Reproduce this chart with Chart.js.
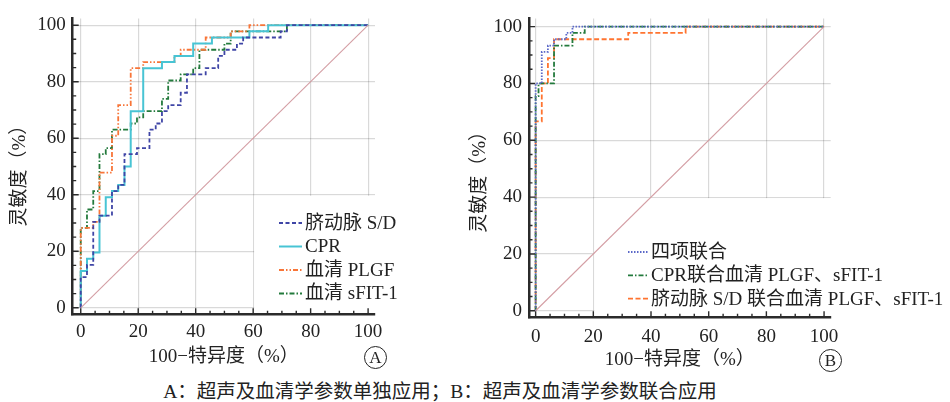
<!DOCTYPE html>
<html>
<head>
<meta charset="utf-8">
<script src="https://cdn.jsdelivr.net/npm/chart.js@4.4.1/dist/chart.umd.min.js"></script>
<style>
    body { margin: 0; background: #fff; width: 950px; height: 402px; overflow: hidden; position: relative;
           font-family: "Liberation Serif", "Noto Sans CJK SC", serif; color: #222; }
    #left { position: absolute; left: 0; top: 0; }
    #right { position: absolute; left: 460px; top: 0; }
    .tag { position: absolute; width: 21px; height: 21px; border: 1.3px solid #222; border-radius: 50%;
           font-size: 17px; line-height: 21px; text-align: center; }
    #caption { position: absolute; top: 381px; left: 0; width: 880px; text-align: center;
               font-size: 19.5px; line-height: 22px; }
</style>
</head>
<body>
<canvas id="left" width="420" height="380"></canvas>
<canvas id="right" width="490" height="380"></canvas>
<div class="tag" style="left:364px;top:346px">A</div>
<div class="tag" style="left:819px;top:349px">B</div>
<div id="caption">A：超声及血清学参数单独应用；B：超声及血清学参数联合应用</div>

<script>
// ticks (0..100 every 5, labels every 20)
const tickValues = [0, 5, 10, 15, 20, 25, 30, 35, 40, 45, 50, 55, 60, 65, 70, 75, 80, 85, 90, 95, 100];
const majorTicks = [0, 20, 40, 60, 80, 100];

// reference diagonal
const refX = [0, 100];
const refY = [0, 100];

// --- Panel A: single parameters (100-specificity where sensitivity jumps, new sensitivity)
const sdX   = [0, 2.17, 4.35, 6.52, 10.87, 13.04, 15.22, 19.57, 23.91, 26.09, 28.26, 30.43, 34.78, 36.96, 43.48, 47.83, 50.00, 54.35, 56.52, 69.57, 71.74];
const sdY   = [10.87, 15.22, 30.43, 32.61, 41.30, 43.48, 54.35, 56.52, 63.04, 65.22, 69.57, 71.74, 76.09, 82.61, 84.78, 89.13, 91.30, 93.48, 95.65, 97.83, 100];

const cprX  = [0, 2.17, 4.35, 6.52, 8.70, 10.87, 13.04, 15.22, 17.39, 21.74, 28.26, 32.61, 39.13, 45.65, 58.70, 65.22];
const cprY  = [13.04, 17.39, 19.57, 32.61, 39.13, 41.30, 43.48, 50.00, 69.57, 84.78, 86.96, 89.13, 93.48, 95.65, 97.83, 100];

const plgfX = [0, 4.35, 6.52, 10.87, 13.04, 17.39, 21.74, 32.61, 34.78, 43.48, 52.17, 58.70];
const plgfY = [28.26, 30.43, 47.83, 60.87, 71.74, 84.78, 86.96, 89.13, 91.30, 95.65, 97.83, 100];

const sfitX = [0, 2.17, 4.35, 6.52, 8.70, 10.87, 17.39, 19.57, 21.74, 28.26, 30.43, 34.78, 39.13, 41.30, 50.00, 52.17, 71.74];
const sfitY = [28.26, 34.78, 41.30, 54.35, 56.52, 63.04, 65.22, 67.39, 69.57, 73.91, 80.43, 82.61, 84.78, 91.30, 93.48, 97.83, 100];

// --- Panel B: combined parameters
const allX  = [0, 2.13, 4.26, 6.38, 10.64, 12.77];
const allY  = [80.00, 91.11, 93.33, 95.56, 97.78, 100];

const cprCombX = [0, 1.0, 6.38, 12.77, 17.02];
const cprCombY = [75.56, 80.00, 93.33, 97.78, 100];

const sdCombX = [0, 2.13, 4.26, 6.38, 32.1, 52.0];
const sdCombY = [66.67, 80.00, 88.89, 95.56, 97.78, 100];

const FONT = '"Liberation Serif", "Noto Sans CJK SC", serif';

function steps(xs, ys) {
    const pts = [{x: 0, y: 0}];
    let prev = 0;
    xs.forEach((x, i) => {
        pts.push({x: x, y: prev});
        pts.push({x: x, y: ys[i]});
        prev = ys[i];
    });
    pts.push({x: 100, y: prev});
    return pts;
}

// grid behind a white legend box, inward ticks and legend on top
const rocDecor = {
    id: 'rocDecor',
    beforeDatasetsDraw(chart, args, opts) {
        const {ctx, chartArea, scales: {x, y}} = chart;
        const bx = x.getPixelForValue(opts.boxFrom) + 1;
        const by = y.getPixelForValue(40) + 1;
        ctx.save();
        ctx.fillStyle = '#fff';
        ctx.fillRect(bx, by, chart.width - bx, chartArea.bottom - 2 - by);
        ctx.restore();
    },
    afterDatasetsDraw(chart, args, opts) {
        const {ctx, chartArea, scales: {x, y}} = chart;
        ctx.save();
        ctx.strokeStyle = '#2b2b2b';
        ctx.lineWidth = 1.4;
        tickValues.forEach(v => {
            const len = majorTicks.includes(v) ? 6 : 3.5;
            const px = x.getPixelForValue(v);
            const py = y.getPixelForValue(v);
            ctx.beginPath();
            ctx.moveTo(px, chartArea.bottom);
            ctx.lineTo(px, chartArea.bottom - len);
            ctx.moveTo(chartArea.left, py);
            ctx.lineTo(chartArea.left + len, py);
            ctx.stroke();
        });

        // legend
        ctx.font = '19px ' + FONT;
        ctx.textBaseline = 'middle';
        ctx.fillStyle = '#222';
        let row = 0;
        chart.data.datasets.forEach(ds => {
            if (!ds.label) return;
            const ly = opts.legendY + row * opts.rowH;
            ctx.strokeStyle = ds.borderColor;
            ctx.lineWidth = ds.borderWidth;
            ctx.setLineDash(ds.borderDash || []);
            ctx.beginPath();
            ctx.moveTo(opts.legendX, ly);
            ctx.lineTo(opts.legendX + opts.sampleW, ly);
            ctx.stroke();
            ctx.setLineDash([]);
            ctx.fillText(ds.label, opts.legendX + opts.sampleW + 3, ly + 1);
            row++;
        });
        ctx.restore();
    }
};

function makeRoc(canvasId, datasets, lay) {
    const ctx = document.getElementById(canvasId).getContext('2d');
    const tickFont = {family: FONT, size: 19};
    return new Chart(ctx, {
        type: 'scatter',
        data: {
            datasets: [{
                data: refX.map((v, i) => ({x: v, y: refY[i]})),
                showLine: true,
                borderColor: '#d49ea4',
                borderWidth: 1.1,
                pointRadius: 0
            }].concat(datasets)
        },
        options: {
            responsive: false,
            animation: false,
            devicePixelRatio: 1,
            layout: {padding: {left: 0, top: lay.top, right: lay.right, bottom: lay.bottom}},
            plugins: {
                legend: {display: false},
                tooltip: {enabled: false},
                rocDecor: lay.decor
            },
            scales: {
                x: {
                    type: 'linear',
                    min: lay.xMin, max: lay.xMax,
                    afterBuildTicks: s => { s.ticks = tickValues.map(v => ({value: v})); },
                    afterFit: s => { s.height = lay.xHeight; },
                    grid: {
                        color: c => majorTicks.includes(c.tick.value) ? 'rgba(0,0,0,0.15)' : 'rgba(0,0,0,0)',
                        lineWidth: 1.2,
                        drawTicks: false
                    },
                    border: {display: true, color: '#2b2b2b', width: 2.5},
                    ticks: {
                        autoSkip: false, maxRotation: 0,
                        padding: lay.xPad, color: '#222', font: tickFont,
                        callback: v => majorTicks.includes(v) ? String(v) : ''
                    },
                    title: {display: true, text: '100−特异度（%）', color: '#222', font: tickFont,
                            padding: {top: 4, bottom: 4}}
                },
                y: {
                    type: 'linear',
                    min: lay.yMin, max: lay.yMax,
                    afterBuildTicks: s => { s.ticks = tickValues.map(v => ({value: v})); },
                    afterFit: s => { s.width = lay.yWidth; },
                    grid: {
                        color: c => majorTicks.includes(c.tick.value) ? 'rgba(0,0,0,0.15)' : 'rgba(0,0,0,0)',
                        lineWidth: 1.2,
                        drawTicks: false
                    },
                    border: {display: true, color: '#2b2b2b', width: 2.5},
                    ticks: {
                        autoSkip: false,
                        padding: 7, color: '#222', font: tickFont,
                        callback: v => majorTicks.includes(v) ? String(v) : ''
                    },
                    title: {display: true, text: '灵敏度（%）' + lay.titlePad, color: '#222', font: tickFont,
                            padding: {top: lay.yTitlePad, bottom: 0}}
                }
            }
        },
        plugins: [rocDecor]
    });
}

function line(label, xs, ys, color, dash, width) {
    return {
        label: label,
        data: steps(xs, ys),
        showLine: true,
        borderColor: color,
        borderWidth: width || 1.8,
        borderDash: dash,
        pointRadius: 0
    };
}

makeRoc('left', [
    line('脐动脉 S/D', sdX, sdY, '#3f45a6', [4, 2.5]),
    line('CPR', cprX, cprY, '#48c4d4', [], 2),
    line('血清 PLGF', plgfX, plgfY, '#f87538', [5, 2, 1.5, 2, 1.5, 2]),
    line('血清 sFIT-1', sfitX, sfitY, '#237a3c', [5, 2, 1.5, 2])
], {
    top: 13.3, right: 45, bottom: 7.7,
    xMin: -2.8, xMax: 102.4, yMin: -2.3, yMax: 102.4,
    xHeight: 58, yWidth: 72.7, xPad: 6, yTitlePad: 8.6, titlePad: '\u2002',
    decor: {boxFrom: 60, legendX: 279, legendY: 223, rowH: 23.5, sampleW: 23}
});

makeRoc('right', [
    line('四项联合', allX, allY, '#5b68c8', [1.5, 1.5]),
    line('CPR联合血清 PLGF、sFIT-1', cprCombX, cprCombY, '#237a3c', [5, 2, 1.5, 2]),
    line('脐动脉 S/D 联合血清 PLGF、sFIT-1', sdCombX, sdCombY, '#ff7430', [5, 2.5])
], {
    top: 15, right: 119.3, bottom: 4.6,
    xMin: -2.3, xMax: 102.3, yMin: -2.3, yMax: 102.9,
    xHeight: 58.1, yWidth: 69, xPad: 8, yTitlePad: 8.6, titlePad: '\u2003',
    decor: {boxFrom: 20, legendX: 168, legendY: 252, rowH: 23.3, sampleW: 20}
});
</script>
</body>
</html>
